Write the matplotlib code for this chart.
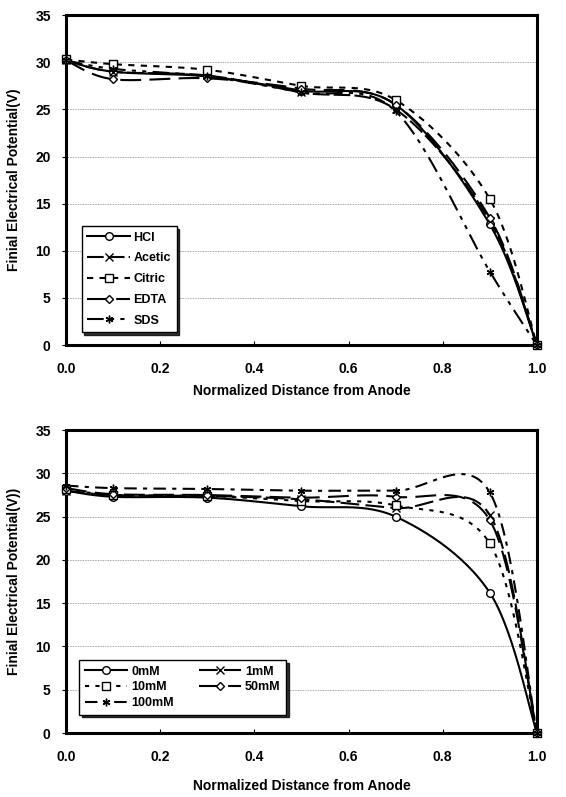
import numpy as np
import matplotlib
matplotlib.use("Agg")
import matplotlib.pyplot as plt

plt.rcParams['font.family'] = ['Liberation Sans', 'DejaVu Sans']
plt.rcParams['font.weight'] = 'bold'

# normalized distance from anode
distance = [0.0, 0.1, 0.3, 0.5, 0.7, 0.9, 1.0]

# top panel: different acids
acid_names = ['HCl', 'Acetic', 'Citric', 'EDTA', 'SDS']
hcl = [30.2, 29.0, 28.5, 27.0, 25.5, 12.8, 0.0]
acetic = [30.2, 29.0, 28.6, 26.8, 25.0, 13.2, 0.0]
citric = [30.3, 29.8, 29.2, 27.5, 26.0, 15.5, 0.0]
edta = [30.2, 28.2, 28.3, 27.2, 25.5, 13.5, 0.0]
sds = [30.2, 29.3, 28.5, 26.8, 24.8, 7.8, 0.0]

# bottom panel: concentrations
conc_names = ['0mM', '1mM', '10mM', '50mM', '100mM']
c0 = [28.0, 27.3, 27.2, 26.2, 25.0, 16.2, 0.0]
c1 = [28.0, 27.5, 27.4, 27.0, 26.0, 25.2, 0.0]
c10 = [28.2, 27.5, 27.4, 26.8, 26.3, 21.9, 0.0]
c50 = [28.3, 27.6, 27.5, 27.2, 27.3, 24.6, 0.0]
c100 = [28.6, 28.3, 28.2, 28.0, 28.0, 27.8, 0.0]

asterisk = (6, 2, 0)
acid_styles = [('-', 'o'), ((0, (8, 2)), 'x'), ((0, (3, 3)), 's'),
               ((0, (10, 4)), 'D'), ((0, (8, 3, 2, 3, 2, 3)), asterisk)]
conc_styles = [('-', 'o'), ((0, (9, 3)), 'x'), ((0, (2, 3)), 's'),
               ((0, (10, 4)), 'D'), ((0, (6, 3, 2, 3)), asterisk)]


def smooth(x, y, n=30):
    # Excel style smoothed line (Catmull-Rom through the points)
    x = np.asarray(x, float)
    y = np.asarray(y, float)
    px = np.concatenate([[x[0]], x, [x[-1]]])
    py = np.concatenate([[y[0]], y, [y[-1]]])
    xs, ys = [], []
    t = np.linspace(0, 1, n)
    for i in range(1, len(px) - 2):
        p0, p1, p2, p3 = (np.array([px[j], py[j]]) for j in range(i - 1, i + 3))
        b1 = p1 + (p2 - p0) / 6
        b2 = p2 - (p3 - p1) / 6
        pts = ((1 - t) ** 3)[:, None] * p1 + (3 * (1 - t) ** 2 * t)[:, None] * b1 \
            + (3 * (1 - t) * t ** 2)[:, None] * b2 + (t ** 3)[:, None] * p2
        xs.extend(pts[:, 0])
        ys.extend(pts[:, 1])
    return xs, ys


def marker_size(mk):
    return 4.5 if mk == 'D' else 5.5


def draw_panel(ax, series, names, styles, ylabel, order, legend_kw, xlabelpad):
    for vals, name, (ls, mk) in zip(series, names, styles):
        sx, sy = smooth(distance, vals)
        ax.plot(sx, sy, color='black', linestyle=ls, linewidth=1.5)
        ax.plot(distance, vals, linestyle='none', marker=mk, markersize=marker_size(mk),
                markerfacecolor='white', markeredgecolor='black', markeredgewidth=1.0,
                clip_on=False, zorder=5)
    handles = [plt.Line2D([], [], color='black', linestyle=ls, linewidth=1.5, marker=mk,
                          markersize=marker_size(mk), markerfacecolor='white',
                          markeredgecolor='black')
               for ls, mk in styles]
    leg = ax.legend([handles[i] for i in order], [names[i] for i in order],
                    frameon=True, fancybox=False, shadow={'color': 'black', 'alpha': 0.8},
                    edgecolor='black', prop={'size': 9, 'weight': 'bold'},
                    handlelength=3.4, handletextpad=0.3, borderpad=0.45, **legend_kw)
    leg.get_frame().set_linewidth(1.0)
    ax.set_xlim(0, 1.0)
    ax.set_ylim(0, 35)
    ax.set_xticks([0.0, 0.2, 0.4, 0.6, 0.8, 1.0])
    ax.set_xticklabels(['0.0', '0.2', '0.4', '0.6', '0.8', '1.0'])
    ax.set_yticks(range(0, 36, 5))
    ax.tick_params(axis='x', direction='in', length=3, pad=12, labelsize=10)
    ax.tick_params(axis='y', direction='out', length=3, pad=8, labelsize=10)
    for y in range(5, 35, 5):
        ax.axhline(y, color='#888888', linestyle=(0, (1, 1)), linewidth=0.6, zorder=0)
    for sp in ax.spines.values():
        sp.set_linewidth(2.2)
    ax.set_xlabel('Normalized Distance from Anode', fontsize=10, fontweight='bold',
                  labelpad=xlabelpad)
    ax.set_ylabel(ylabel, fontsize=10, fontweight='bold', labelpad=10)


fig = plt.figure(figsize=(5.66, 7.97), dpi=100)
ax1 = fig.add_axes([0.1166, 0.567, 0.832, 0.414])
ax2 = fig.add_axes([0.1166, 0.0803, 0.832, 0.380])

draw_panel(ax1, [hcl, acetic, citric, edta, sds], acid_names, acid_styles,
           'Finial Electrical Potential(V)', [0, 1, 2, 3, 4],
           dict(loc='lower left', bbox_to_anchor=(0.02, 0.02), labelspacing=0.7), 6)
draw_panel(ax2, [c0, c1, c10, c50, c100], conc_names, conc_styles,
           'Finial Electrical Potential(V))', [0, 2, 4, 1, 3],
           dict(loc='lower left', bbox_to_anchor=(0.015, 0.04), ncol=2,
                columnspacing=2.0, labelspacing=0.3), 11)

fig.savefig('out.png', dpi=100)
